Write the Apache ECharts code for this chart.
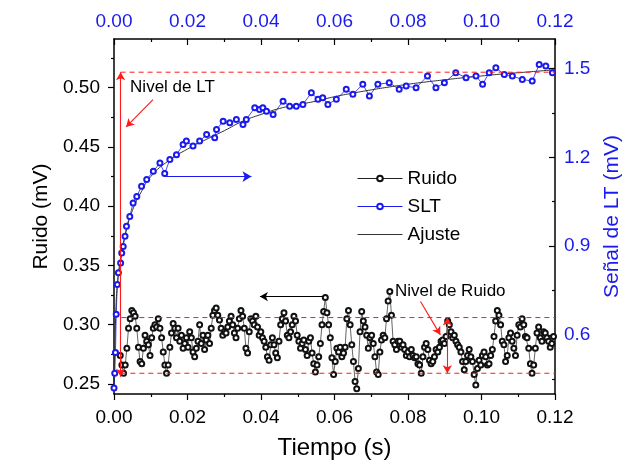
<!DOCTYPE html>
<html>
<head>
<meta charset="utf-8">
<title>Ruido y SLT</title>
<script src="https://cdn.jsdelivr.net/npm/echarts@6/dist/echarts.min.js"></script>
<style>
  body{margin:0;background:#fff;}
  #main{width:632px;height:464px;}
</style>
</head>
<body>
<div id="main"></div>
<script>
// Ruido (mV), muestreo uniforme entre ruidoT0 y ruidoT1 (s)
var ruidoT0 = 0.0017, ruidoT1 = 0.1196;
var ruidoVals = [
  0.274,0.266,0.259,0.266,0.280,0.297,0.305,0.312,0.310,0.307,
  0.297,0.281,0.269,0.267,0.280,0.291,0.286,0.283,0.274,0.289,
  0.297,0.300,0.298,0.305,0.297,0.289,0.277,0.266,0.259,0.266,
  0.281,0.293,0.301,0.297,0.289,0.297,0.286,0.291,0.280,0.284,
  0.289,0.281,0.294,0.289,0.277,0.273,0.280,0.286,0.300,0.284,
  0.291,0.279,0.287,0.291,0.284,0.297,0.308,0.312,0.314,0.308,
  0.304,0.297,0.291,0.294,0.293,0.298,0.303,0.307,0.300,0.293,
  0.289,0.297,0.305,0.312,0.307,0.297,0.280,0.276,0.294,0.305,
  0.303,0.300,0.307,0.298,0.291,0.294,0.289,0.286,0.281,0.273,
  0.270,0.283,0.289,0.283,0.276,0.272,0.286,0.300,0.305,0.310,
  0.303,0.291,0.289,0.294,0.300,0.307,0.303,0.291,0.286,0.280,
  0.284,0.287,0.279,0.274,0.286,0.289,0.276,0.267,0.260,0.266,
  0.273,0.284,0.300,0.311,0.323,0.310,0.300,0.289,0.272,0.258,
  0.269,0.280,
  0.277,0.281,0.273,0.276,0.281,0.305,0.312,0.300,0.283,0.269,
  0.252,0.246,0.263,0.294,0.311,0.303,0.298,0.291,0.280,0.289,
  0.291,0.284,0.273,0.260,0.258,0.277,0.287,0.291,0.289,0.305,
  0.320,0.328,0.308,0.286,0.283,0.279,0.286,0.286,0.281,0.283,
  0.279,0.274,0.277,0.273,0.279,0.274,0.272,0.273,0.267,0.266,
  0.259,0.273,0.281,0.284,0.279,0.270,0.267,0.269,0.273,0.279,
  0.277,0.281,0.286,0.287,0.284,0.290,0.303,0.300,0.294,0.289,
  0.291,0.286,0.283,0.281,0.277,0.269,0.262,0.269,0.274,0.279,
  0.273,0.269,0.258,0.249,0.263,0.270,0.266,0.274,0.277,0.273,
  0.266,0.267,0.274,0.279,0.290,0.303,0.312,0.308,0.300,0.286,
  0.283,0.269,0.274,0.289,0.293,0.286,0.280,0.274,0.291,0.300,
  0.298,0.305,0.300,0.290,0.289,0.280,0.267,0.259,0.266,0.280,
  0.293,0.298,0.289,0.286,0.294,0.293,0.289,0.286,0.281,0.284,
  0.290
];

// SLT (mV) eje derecho
var sltT = [0,0.0002,0.0004,0.0006,0.0009,0.0012,0.0018,0.0021,0.0025,0.0030,
  0.0034,0.0043,0.0052,0.0062,0.0075,0.0089,0.0107,0.0125,0.0138,0.0152,
  0.0170,0.0188,0.0197,0.0215,0.0233,0.0252,0.0274,0.0279,0.0297,0.0315,
  0.0333,0.0351,0.0360,0.0383,0.0396,0.0405,0.0415,0.0433,0.0460,0.0478,
  0.0496,0.0514,0.0537,0.0555,0.0568,0.0582,0.0605,0.0632,0.0650,0.0677,
  0.0695,0.0718,0.0749,0.0776,0.0795,0.0822,0.0853,0.0876,0.0899,0.0930,
  0.0958,0.0985,0.1003,0.1021,0.1039,0.1062,0.1084,0.1111,0.1138,0.1157,
  0.1175,0.1193];
var sltV = [0.42,0.47,0.54,0.67,0.77,0.81,0.843,0.877,0.899,0.933,
  0.967,1.000,1.046,1.068,1.102,1.125,1.153,1.181,1.145,1.193,
  1.209,1.243,1.255,1.238,1.255,1.277,1.266,1.294,1.322,1.317,
  1.328,1.311,1.328,1.368,1.362,1.368,1.356,1.345,1.390,1.373,
  1.373,1.379,1.418,1.396,1.401,1.379,1.396,1.430,1.413,1.447,
  1.407,1.447,1.452,1.430,1.441,1.435,1.475,1.435,1.452,1.486,
  1.469,1.475,1.447,1.486,1.503,1.480,1.475,1.463,1.458,1.514,
  1.509,1.486];

// Ajuste
var ajusteT = [0,0.0005,0.001,0.002,0.003,0.005,0.0075,0.010,0.015,0.020,
  0.025,0.030,0.035,0.040,0.045,0.050,0.055,0.060,0.065,0.070,
  0.075,0.080,0.085,0.090,0.095,0.100,0.105,0.110,0.115,0.120];
var ajusteV = [0.42,0.68,0.78,0.875,0.935,1.02,1.085,1.135,1.19,1.228,
  1.26,1.29,1.322,1.345,1.365,1.378,1.39,1.405,1.417,1.428,
  1.438,1.447,1.455,1.462,1.469,1.475,1.481,1.486,1.491,1.496];

// ticks
var yIzqTicks = [0.25,0.30,0.35,0.40,0.45,0.50];
var yIzqMinor = [0.275,0.325,0.375,0.425,0.475,0.525];
var yDerTicks = [0.6,0.9,1.2,1.5];
var yDerMinor = [0.45,0.75,1.05,1.35];

// niveles (eje izquierdo)
var nivelLT = 0.513, ruidoSup = 0.306, ruidoInf = 0.259;

var FONT = 'Liberation Sans, Arial, sans-serif';
var AZUL = '#1a1aee', ROJO = '#ff1a1a';

var ruidoData = [];
for (var i = 0; i < ruidoVals.length; i++) {
  ruidoData.push([ruidoT0 + (ruidoT1 - ruidoT0) * i / (ruidoVals.length - 1), ruidoVals[i]]);
}
var sltData = sltT.map(function(t, i){ return [t, sltV[i]]; });
var ajusteData = ajusteT.map(function(t, i){ return [t, ajusteV[i]]; });

function xEje(pos, color, inside) {
  return {
    type: 'value', position: pos, min: 0, max: 0.12, interval: 0.02,
    axisLine: {show: true, onZero: false, lineStyle: {color: '#000', width: 1.5}},
    axisTick: {show: true, inside: inside, length: 6, lineStyle: {color: '#000', width: 1.2}},
    minorTick: {show: true, splitNumber: 2, length: 3, lineStyle: {color: '#000', width: 1.2}},
    splitLine: {show: false}, minorSplitLine: {show: false},
    axisLabel: {color: color, fontSize: 19, fontFamily: FONT, margin: inside ? 8 : 14,
      formatter: function(v){ return v.toFixed(2); }}
  };
}
function yEje(pos, min, max, ticks, len, inside, label) {
  return {
    type: 'value', position: pos, min: min, max: max,
    axisLine: {show: !!label, onZero: false, lineStyle: {color: '#000', width: 1.5}},
    axisTick: {show: true, inside: inside, length: len, customValues: ticks, lineStyle: {color: '#000', width: 1.2}},
    splitLine: {show: false},
    axisLabel: label ? label : {show: false}
  };
}

var xBottom = xEje('bottom', '#000', false);
xBottom.name = 'Tiempo (s)';
xBottom.nameLocation = 'middle';
xBottom.nameGap = 42;
xBottom.nameTextStyle = {fontSize: 24, fontFamily: FONT, color: '#000'};
var xTop = xEje('top', AZUL, true);

var yIzq = yEje('left', 0.2415, 0.541, yIzqTicks, 6, false,
  {customValues: yIzqTicks, fontSize: 19, fontFamily: FONT, color: '#000', margin: 14,
   formatter: function(v){ return v.toFixed(2); }});
yIzq.name = 'Ruido (mV)';
yIzq.nameLocation = 'middle';
yIzq.nameGap = 62;
yIzq.nameTextStyle = {fontSize: 21, fontFamily: FONT, color: '#000'};
var yIzqMin = yEje('left', 0.2415, 0.541, yIzqMinor, 3, false, null);
var yDer = yEje('right', 0.4, 1.6, yDerTicks, 6, true,
  {customValues: yDerTicks, fontSize: 19, fontFamily: FONT, color: AZUL, margin: 9,
   formatter: function(v){ return v.toFixed(1); }});
yDer.name = 'Señal de LT (mV)';
yDer.nameLocation = 'middle';
yDer.nameGap = 44;
yDer.nameTextStyle = {fontSize: 21, fontFamily: FONT, color: AZUL};
var yDerMin = yEje('right', 0.4, 1.6, yDerMinor, 3, true, null);

// flechas: segmento de markLine, estilo nuevo para cada uno
function seg(a, b, s0, s1, color) {
  return [
    {coord: a, symbol: s0, lineStyle: {color: color, width: 1.1, type: 'solid'}},
    {coord: b, symbol: s1}
  ];
}
// niveles punteados como series propias
function nivel(t0, v) {
  return {
    type: 'line', xAxisIndex: 0, yAxisIndex: 0, data: [[t0, v], [0.12, v]],
    symbol: 'none', silent: true, z: 4,
    lineStyle: {color: ROJO, width: 1, type: [5, 4]}
  };
}

var chart = echarts.init(document.getElementById('main'));
chart.setOption({
  animation: false,
  backgroundColor: '#fff',
  textStyle: {fontFamily: FONT},
  grid: {left: 114, right: 77, top: 39, bottom: 70, containLabel: false, outerBoundsMode: 'none'},
  legend: {
    data: ['Ruido', 'SLT', {name: 'Ajuste', icon: 'path://M0,0H45V1H0Z'}],
    orient: 'vertical', left: 357, top: 169, padding: 0,
    itemWidth: 45, itemHeight: 7, itemGap: 9,
    lineStyle: {width: 1},
    textStyle: {fontSize: 19, color: '#000', fontFamily: FONT}
  },
  xAxis: [xBottom, xTop],
  yAxis: [yIzq, yIzqMin, yDer, yDerMin],
  series: [
    {
      name: 'Ruido', type: 'line', xAxisIndex: 0, yAxisIndex: 0, data: ruidoData,
      symbol: 'emptyCircle', symbolSize: 5, showAllSymbol: true,
      lineStyle: {color: '#222', width: 0.7}, itemStyle: {color: '#111', borderWidth: 0.8}
    },
    {
      name: 'SLT', type: 'line', xAxisIndex: 0, yAxisIndex: 2, data: sltData,
      symbol: 'emptyCircle', symbolSize: 5, showAllSymbol: true,
      lineStyle: {color: AZUL, width: 0.8}, itemStyle: {color: AZUL, borderWidth: 0.8},
      markLine: {
        silent: true, symbolSize: [8, 9], label: {show: false}, z: 5,
        data: [seg([0.0138, 1.135], [0.0374, 1.135], 'none', 'arrow', AZUL)]
      }
    },
    {
      name: 'Ajuste', type: 'line', xAxisIndex: 0, yAxisIndex: 2, data: ajusteData,
      smooth: true, symbol: 'none', lineStyle: {color: '#333', width: 1}, itemStyle: {color: '#333'}
    },
    nivel(0.0018, nivelLT),
    nivel(0.002, ruidoSup),
    nivel(0.002, ruidoInf),
    {
      name: 'notas', type: 'line', xAxisIndex: 0, yAxisIndex: 0, data: [], z: 5,
      itemStyle: {color: ROJO},
      markLine: {
        silent: true, symbolSize: [7, 8], label: {show: false}, z: 5,
        data: [
          seg([0.0018, 0.256], [0.0018, nivelLT], 'arrow', 'arrow', ROJO),
          seg([0.0907, ruidoInf], [0.0907, ruidoSup], 'arrow', 'arrow', ROJO),
          seg([0.0106, 0.4899], [0.0033, 0.4668], 'none', 'arrow', ROJO),
          seg([0.0834, 0.3195], [0.0888, 0.2914], 'none', 'arrow', ROJO),
          seg([0.0569, 0.3237], [0.0397, 0.3237], 'none', 'arrow', '#000')
        ]
      },
      markPoint: {
        silent: true, symbol: 'circle', symbolSize: 1, itemStyle: {color: 'rgba(0,0,0,0)'},
        label: {show: true, position: 'inside', formatter: '{b}', color: '#000', fontSize: 17, fontFamily: FONT},
        data: [
          {name: 'Nivel de LT', coord: [0.0159, 0.50]},
          {name: 'Nivel de Ruido', coord: [0.0915, 0.3285]}
        ]
      }
    }
  ]
});
</script>
</body>
</html>
